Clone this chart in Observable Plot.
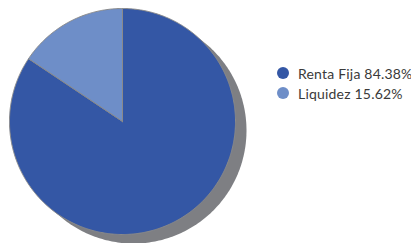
<!DOCTYPE html>
<html>
<head>
<meta charset="utf-8">
<script src="https://cdn.jsdelivr.net/npm/d3@7"></script>
<script src="https://cdn.jsdelivr.net/npm/@observablehq/plot@0.6"></script>
<style>
  html, body { margin: 0; padding: 0; background: #fff; }
  #wrap { position: relative; width: 411px; height: 243px; }
  #legend { position: absolute; left: 277px; top: 63px; font-family: Lato, "Open Sans", sans-serif; font-size: 14px; letter-spacing: 0.2px; color: #3a3a3a; }
  .item { display: flex; align-items: center; height: 20px; white-space: nowrap; }
  .sw { width: 12px; height: 12px; border-radius: 50%; margin-right: 9px; flex: none; }
</style>
</head>
<body>
<div id="wrap"></div>
<script>
const categories = ["Renta Fija", "Liquidez"];
const values = [84.38, 15.62];
const labels = ["Renta Fija 84.38%", "Liquidez 15.62%"];
const colors = ["#3457a5", "#6e8ec8"];

const W = 411, H = 243, cx = 122, cy = 121, R = 113;

// build slice polygons (clockwise from 12 o'clock) in unit-circle data space
const total = d3.sum(values);
const slices = [];
let a0 = 0;
categories.forEach((c, i) => {
  const a1 = a0 + values[i] / total * 2 * Math.PI;
  const n = Math.max(2, Math.ceil((a1 - a0) / 0.01));
  slices.push({cat: c, x: 0, y: 0});
  for (let k = 0; k <= n; k++) {
    const a = a0 + (a1 - a0) * k / n;
    slices.push({cat: c, x: Math.sin(a), y: Math.cos(a)});
  }
  slices.push({cat: c, x: 0, y: 0});
  a0 = a1;
});
const circle = d3.range(0, 361).map(d => ({x: Math.sin(d * Math.PI / 180), y: Math.cos(d * Math.PI / 180)}));

const chart = Plot.plot({
  width: W, height: H,
  margin: 0,
  x: {domain: [-cx / R, (W - cx) / R], axis: null},
  y: {domain: [-(H - cy) / R, cy / R], axis: null},
  color: {domain: categories, range: colors},
  marks: [
    Plot.line(circle, {x: "x", y: "y", fill: "#7e7f83", stroke: "none", dx: 11, dy: 9}),
    Plot.line(slices, {x: "x", y: "y", z: "cat", fill: "cat", stroke: "#8a8a8a", strokeWidth: 1, curve: "linear-closed"})
  ]
});
const wrap = document.getElementById("wrap");
wrap.appendChild(chart);

const legend = document.createElement("div");
legend.id = "legend";
categories.forEach((c, i) => {
  const it = document.createElement("div");
  it.className = "item";
  const sw = document.createElement("span");
  sw.className = "sw";
  sw.style.background = colors[i];
  const t = document.createElement("span");
  t.textContent = labels[i];
  it.appendChild(sw); it.appendChild(t);
  legend.appendChild(it);
});
wrap.appendChild(legend);
</script>
</body>
</html>
